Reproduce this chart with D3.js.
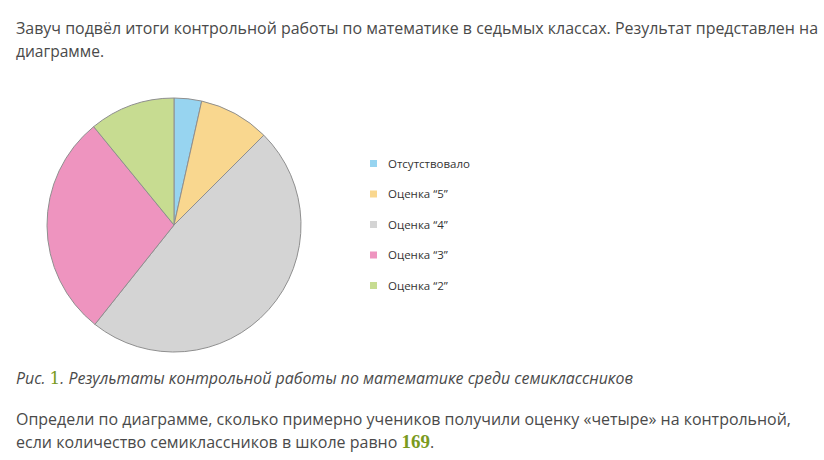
<!DOCTYPE html>
<html>
<head>
<meta charset="utf-8">
<script src="https://cdn.jsdelivr.net/npm/d3@7"></script>
<style>
  html, body { margin: 0; padding: 0; background: #fff; }
  svg { display: block; }
</style>
</head>
<body>
<div id="chart"></div>
<script>
// данные диаграммы (доли в процентах)
const categories = ["Отсутствовало", "Оценка “5”", "Оценка “4”", "Оценка “3”", "Оценка “2”"];
const values = [3.5, 9, 48.2, 28.4, 10.9];
const colors = ["#97d4f0", "#f9d78f", "#d4d4d4", "#ee94bf", "#c7dc91"];

const width = 824, height = 460;
const svg = d3.select("#chart").append("svg")
    .attr("width", width).attr("height", height);

const font = "'Open Sans', sans-serif";
const textColor = "#4a4a4a";

// текст задания
function line(txt, x, y, len, opts = {}) {
  const t = svg.append("text")
    .attr("x", x).attr("y", y)
    .attr("font-family", font)
    .attr("font-size", opts.size || 16)
    .attr("fill", textColor);
  if (opts.italic) t.attr("font-style", "italic");
  if (len) t.attr("textLength", len).attr("lengthAdjust", "spacingAndGlyphs");
  return t.text(txt);
}

line("Завуч подвёл итоги контрольной работы по математике в седьмых классах. Результат представлен на", 16, 34, 802);
line("диаграмме.", 16, 57, 88);

// пирог
const cx = 174, cy = 225, r = 127;
const pie = d3.pie().sort(null).value(d => d);
const arc = d3.arc().innerRadius(0).outerRadius(r);

svg.append("g")
    .attr("transform", `translate(${cx},${cy})`)
  .selectAll("path")
  .data(pie(values))
  .join("path")
    .attr("d", arc)
    .attr("fill", (d, i) => colors[i])
    .attr("stroke", "#8f8f8f")
    .attr("stroke-width", 1);

// легенда
const legend = svg.append("g").attr("transform", "translate(370,160)");
const rowY = d3.scalePoint().domain(categories).range([0, 122]);
const item = legend.selectAll("g")
  .data(categories)
  .join("g")
    .attr("transform", d => `translate(0,${rowY(d)})`);
item.append("rect")
    .attr("width", 7).attr("height", 7)
    .attr("fill", (d, i) => colors[i]);
item.append("text")
    .attr("x", 18).attr("y", 7.5)
    .attr("font-family", font)
    .attr("font-size", 11.5)
    .attr("fill", "#333")
    .text(d => d);

// подпись к рисунку
const cap = svg.append("text")
    .attr("x", 16).attr("y", 384)
    .attr("font-family", font)
    .attr("font-size", 16)
    .attr("font-style", "italic")
    .attr("fill", textColor)
    .attr("textLength", 617)
    .attr("lengthAdjust", "spacingAndGlyphs");
cap.append("tspan").text("Рис. ");
cap.append("tspan").attr("font-family", "'DejaVu Serif', serif").attr("font-style", "normal")
    .attr("fill", "#7a9a1e").attr("font-size", 17).text("1");
cap.append("tspan").text(". Результаты контрольной работы по математике среди семиклассников");

line("Определи по диаграмме, сколько примерно учеников получили оценку «четыре» на контрольной,", 16, 425, 775);
const last = svg.append("text")
    .attr("x", 16).attr("y", 448)
    .attr("font-family", font)
    .attr("font-size", 16)
    .attr("fill", textColor);
last.append("tspan").text("если количество семиклассников в школе равно ");
last.append("tspan").attr("font-family", "'Liberation Serif', serif")
    .attr("fill", "#7a9a1e").attr("font-size", 19).attr("font-weight", "bold").text("169");
last.append("tspan").text(".");
</script>
</body>
</html>
